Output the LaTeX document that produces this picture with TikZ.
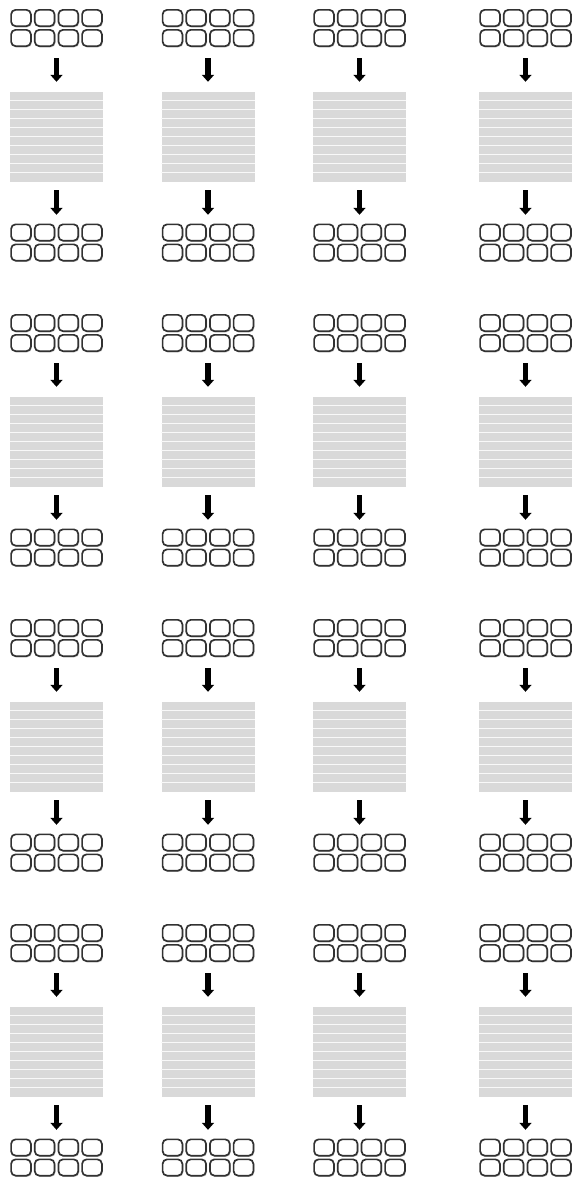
\documentclass[tikz,border=0pt]{standalone}
\usetikzlibrary{arrows.meta, shadows, calc, positioning}
\definecolor{KeyEdge}{RGB}{50, 50, 50}
\definecolor{BandFill}{RGB}{217, 217, 217}
\definecolor{BandLine}{RGB}{248, 248, 248}

\begin{document}
\begin{tikzpicture}[
        x=1pt, y=-1pt,
        % Groupe de touches (cadre invisible)
        keygroup/.style={minimum width=92pt, minimum height=38pt, inner sep=0pt},
        % Touche arrondie avec ombre
        keybox/.style={draw=KeyEdge, line width=1.7pt, rounded corners=4.5pt, fill=white, minimum width=19.8pt, minimum height=16.3pt, inner sep=0pt, drop shadow={shadow xshift=1pt, shadow yshift=-1.2pt, opacity=0.4}},
        % Bloc gris raye
        band/.style={fill=BandFill, minimum width=93pt, minimum height=90pt, inner sep=0pt},
        bandline/.style={draw=BandLine, line width=1.3pt},
        % Style des flèches
        arrow/.style={-{Triangle[width=12pt, length=7pt]}, line width=5.5pt, black}
    ]

    % --- CADRE ---
    \useasboundingbox (0,0) rectangle (577,1181);

    % --- PANNEAUX ---
    \foreach \p in {0,...,3}
    \foreach \cx [count=\c] in {56.5, 208, 359.5, 525.5} {
        \pgfmathsetmacro\py{305*\p}
        \node[keygroup] (tg-\p-\c) at ({\cx}, {\py+28}) {};
        \node[band] (blk-\p-\c) at ({\cx}, {\py+137}) {};
        \node[keygroup] (bg-\p-\c) at ({\cx}, {\py+242.5}) {};

        % raies blanches du bloc
        \foreach \k in {1,...,9}
            \draw[bandline] ($(blk-\p-\c.north west)+(0,9*\k)$) -- ($(blk-\p-\c.north east)+(0,9*\k)$);

        % touches (haut et bas)
        \foreach \g in {tg, bg}
        \foreach \kx [count=\i] in {-35.5, -11.85, 11.85, 35.5}
        \foreach \ky [count=\j] in {-10, 10}
            \node[keybox] (\g-\p-\c-\i-\j) at ($(\g-\p-\c)+(\kx,\ky)$) {};

        % --- FLÈCHES ---
        \draw[arrow, shorten <=11pt, shorten >=10pt] (tg-\p-\c) -- (blk-\p-\c);
        \draw[arrow, shorten <=8pt, shorten >=8.5pt] (blk-\p-\c) -- (bg-\p-\c);
    }

\end{tikzpicture}
\end{document}
